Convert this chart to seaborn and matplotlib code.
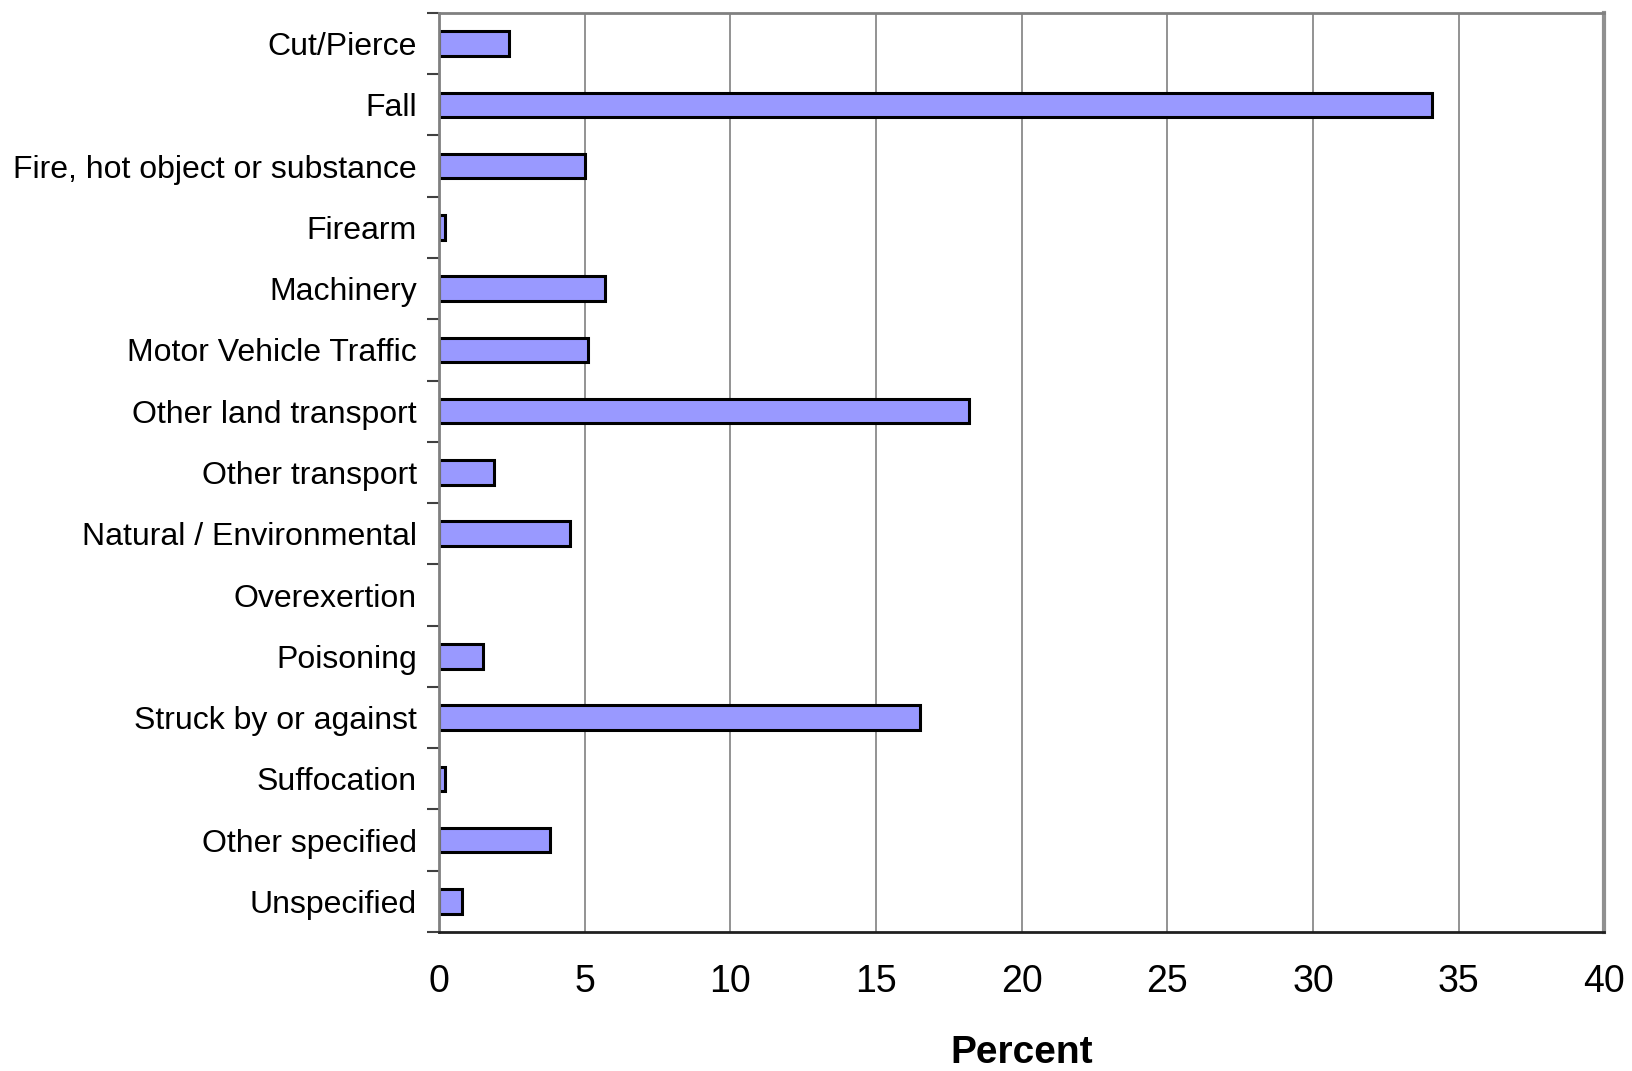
import matplotlib
matplotlib.use("Agg")
import matplotlib.pyplot as plt
import numpy as np
import pandas as pd
import seaborn as sns
from matplotlib import ticker

categories = [
    "Cut/Pierce",
    "Fall",
    "Fire, hot object or substance",
    "Firearm",
    "Machinery",
    "Motor Vehicle Traffic",
    "Other land transport",
    "Other transport",
    "Natural / Environmental",
    "Overexertion",
    "Poisoning",
    "Struck by or against",
    "Suffocation",
    "Other specified",
    "Unspecified",
]
percent = [2.4, 34.1, 5.0, 0.2, 5.7, 5.1, 18.2, 1.9, 4.5, 0.0, 1.5, 16.5, 0.2, 3.8, 0.8]
x_ticks = [0, 5, 10, 15, 20, 25, 30, 35, 40]

sns.set_style("white")
plt.rcParams["font.family"] = ["Liberation Sans", "DejaVu Sans"]
plt.rcParams["text.color"] = "black"
plt.rcParams["xtick.labelcolor"] = "black"
plt.rcParams["ytick.labelcolor"] = "black"
plt.rcParams["axes.labelcolor"] = "black"

df = pd.DataFrame({"Cause": categories, "Percent": percent})

fig = plt.figure(figsize=(16.32, 10.71), dpi=100)
ax = fig.add_axes([0.269, 0.1298, 0.714, 0.8581])

sns.barplot(
    data=df,
    y="Cause",
    x="Percent",
    orient="h",
    color="#9999FF",
    saturation=1,
    edgecolor="black",
    linewidth=2.2,
    width=0.4,
    ax=ax,
)
# zero-length bar leaves no visible mark in the original
for patch, val in zip(ax.patches, percent):
    if val == 0:
        patch.set_linewidth(0)

ax.set_xlim(0, 40)
ax.set_ylim(len(categories) - 0.5, -0.5)
ax.set_xticks(x_ticks)
ax.set_xticklabels([str(t) for t in x_ticks], fontsize=27)
ax.tick_params(axis="x", length=11, width=1.5, color="#808080", direction="out", pad=12)
ax.tick_params(axis="y", which="major", length=0, pad=16, labelsize=23)
ax.yaxis.set_minor_locator(ticker.FixedLocator(np.arange(-0.5, len(categories), 1.0)))
ax.tick_params(axis="y", which="minor", length=9, width=1.5, color="#404040", direction="out", left=True)

ax.grid(axis="x", color="#808080", linewidth=1.2)
ax.set_axisbelow(True)

for side in ["left", "top"]:
    ax.spines[side].set_color("#808080")
    ax.spines[side].set_linewidth(2)
ax.spines["right"].set_color("#909090")
ax.spines["right"].set_linewidth(3)
ax.spines["bottom"].set_color("#202020")
ax.spines["bottom"].set_linewidth(2)

ax.set_ylabel("")
ax.set_xlabel("Percent", fontsize=28, fontweight="bold", labelpad=25)

fig.savefig("out.png", dpi=100)
